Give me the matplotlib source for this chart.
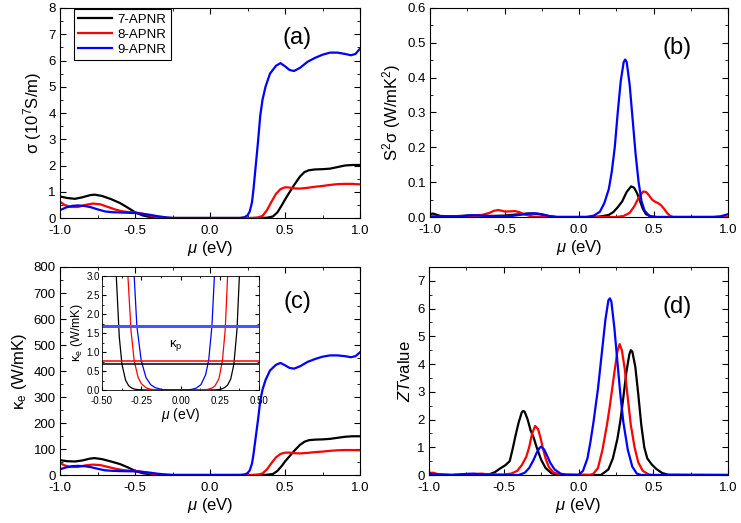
import matplotlib
matplotlib.use("Agg")
import matplotlib.pyplot as plt
from matplotlib.ticker import MultipleLocator, AutoMinorLocator

plt.rcParams["font.family"] = ["Liberation Sans", "DejaVu Sans"]
plt.rcParams["mathtext.fontset"] = "custom"
plt.rcParams["mathtext.rm"] = "Liberation Sans"
plt.rcParams["mathtext.it"] = "Liberation Sans:italic"
plt.rcParams["mathtext.bf"] = "Liberation Sans:bold"
plt.rcParams["axes.unicode_minus"] = False

LABELS = ["7-APNR", "8-APNR", "9-APNR"]
COLORS = ["black", "#ff0000", "#0000ff"]

# ---- (a) sigma (10^7 S/m) ----
MU_A7 = [-1.0, -0.95, -0.9, -0.85, -0.8, -0.77, -0.72, -0.66, -0.6, -0.55, -0.5, -0.45, -0.4, -0.35, -0.3,
         0.3, 0.38, 0.42, 0.45, 0.48, 0.5, 0.53, 0.56, 0.6, 0.63, 0.66, 0.7, 0.75, 0.8, 0.85, 0.9, 0.95, 1.0]
SIG_7 = [0.82, 0.76, 0.73, 0.79, 0.87, 0.89, 0.84, 0.72, 0.57, 0.40, 0.22, 0.10, 0.04, 0.01, 0.0,
         0.0, 0.01, 0.06, 0.22, 0.50, 0.70, 0.98, 1.25, 1.58, 1.75, 1.82, 1.85, 1.86, 1.88, 1.94, 2.0, 2.02, 2.02]
MU_A8 = [-1.0, -0.97, -0.93, -0.88, -0.83, -0.78, -0.73, -0.68, -0.63, -0.58, -0.53, -0.48, -0.43, -0.38, -0.33, -0.28,
         0.28, 0.32, 0.35, 0.38, 0.41, 0.44, 0.47, 0.5, 0.53, 0.56, 0.6, 0.65, 0.7, 0.75, 0.8, 0.85, 0.9, 0.95, 1.0]
SIG_8 = [0.62, 0.50, 0.42, 0.42, 0.50, 0.55, 0.52, 0.42, 0.32, 0.25, 0.22, 0.20, 0.14, 0.06, 0.02, 0.0,
         0.0, 0.02, 0.08, 0.30, 0.62, 0.92, 1.10, 1.17, 1.16, 1.13, 1.12, 1.15, 1.19, 1.22, 1.26, 1.29, 1.30, 1.30, 1.28]
MU_A9 = [-1.0, -0.96, -0.92, -0.88, -0.84, -0.8, -0.75, -0.7, -0.65, -0.6, -0.55, -0.5, -0.45, -0.4, -0.35, -0.3, -0.25,
         0.2, 0.23, 0.25, 0.265, 0.28, 0.29, 0.3, 0.32, 0.335, 0.35, 0.37, 0.4, 0.44, 0.47, 0.5, 0.53, 0.56, 0.6, 0.65,
         0.7, 0.75, 0.8, 0.85, 0.9, 0.94, 0.97, 1.0]
SIG_9 = [0.30, 0.40, 0.46, 0.48, 0.46, 0.42, 0.33, 0.25, 0.22, 0.21, 0.20, 0.19, 0.16, 0.12, 0.07, 0.03, 0.0,
         0.0, 0.03, 0.10, 0.25, 0.6, 1.1, 1.7, 2.9, 3.9, 4.5, 5.0, 5.5, 5.8, 5.9, 5.78, 5.64, 5.6, 5.72, 5.95,
         6.1, 6.22, 6.3, 6.3, 6.25, 6.2, 6.25, 6.45]

# ---- (b) power factor S^2 sigma (W/mK^2) ----
MU_B7 = [-1.0, -0.98, -0.96, -0.93, -0.85, -0.75, -0.68, -0.6, -0.5, -0.4, -0.35, -0.3, -0.25, -0.2, -0.15,
         0.1, 0.15, 0.2, 0.23, 0.26, 0.29, 0.32, 0.35, 0.37, 0.39, 0.41, 0.43, 0.45, 0.48, 0.52, 1.0]
PF_7 = [0.008, 0.01, 0.007, 0.003, 0.002, 0.004, 0.005, 0.003, 0.004, 0.008, 0.01, 0.01, 0.007, 0.002, 0.0,
        0.0, 0.002, 0.006, 0.014, 0.028, 0.045, 0.072, 0.088, 0.084, 0.068, 0.045, 0.022, 0.008, 0.002, 0.0, 0.0]
MU_B8 = [-1.0, -0.9, -0.8, -0.7, -0.65, -0.6, -0.57, -0.54, -0.5, -0.47, -0.43, -0.4, -0.37, -0.33, -0.3, -0.25,
         0.25, 0.3, 0.34, 0.37, 0.4, 0.43, 0.45, 0.47, 0.49, 0.51, 0.53, 0.55, 0.57, 0.59, 0.61, 0.63, 1.0]
PF_8 = [0.0, 0.001, 0.002, 0.004, 0.006, 0.012, 0.018, 0.02, 0.016, 0.016, 0.017, 0.014, 0.008, 0.003, 0.001, 0.0,
        0.0, 0.003, 0.012, 0.03, 0.055, 0.073, 0.072, 0.062, 0.05, 0.044, 0.04, 0.034, 0.024, 0.012, 0.004, 0.0, 0.0]
MU_B9 = [-1.0, -0.9, -0.8, -0.72, -0.65, -0.55, -0.45, -0.38, -0.33, -0.28, -0.24, -0.2, -0.15,
         0.05, 0.1, 0.14, 0.17, 0.2, 0.22, 0.24, 0.26, 0.28, 0.3, 0.31, 0.32, 0.34, 0.36, 0.38, 0.4, 0.42, 0.44,
         0.47, 0.5, 0.9, 0.95, 1.0]
PF_9 = [0.002, 0.001, 0.002, 0.005, 0.004, 0.002, 0.003, 0.007, 0.01, 0.01, 0.007, 0.003, 0.0,
        0.0, 0.004, 0.015, 0.04, 0.08, 0.13, 0.2, 0.3, 0.39, 0.445, 0.452, 0.445, 0.38, 0.28, 0.18, 0.1, 0.045, 0.018,
        0.004, 0.0, 0.0, 0.002, 0.008]

# ---- (c) electronic thermal conductivity kappa_e (W/mK) ----
KE_7 = [57, 53, 52, 56, 63, 65, 61, 52, 42, 30, 16, 7, 3, 1, 0,
        0, 1, 4, 16, 36, 52, 72, 92, 116, 128, 134, 136, 137, 139, 143, 147, 149, 149]
KE_8 = [46, 37, 31, 31, 37, 40, 38, 31, 24, 19, 16, 15, 10, 4, 1.5, 0,
        0, 1.5, 6, 22, 46, 68, 81, 86, 86, 84, 83, 85, 88, 90, 93, 95, 96, 96, 95]
KE_9 = [22, 29, 34, 35, 34, 31, 24, 18, 16, 15, 14.5, 14, 12, 9, 5, 2, 0,
        0, 2, 7, 18, 44, 80, 124, 212, 285, 328, 365, 402, 424, 431, 422, 412, 409, 418, 435,
        446, 455, 460, 460, 457, 453, 457, 472]

# inset: low-mu kappa_e and phonon kappa_p
MU_I7 = [-0.43, -0.409, -0.39, -0.373, -0.35, -0.33, -0.31, -0.29, -0.26, -0.22, -0.15,
         0.15, 0.22, 0.24, 0.26, 0.28, 0.30, 0.32, 0.34, 0.36, 0.375, 0.39]
KI_7 = [6.0, 3.0, 1.4, 0.68, 0.26, 0.11, 0.05, 0.02, 0.007, 0.002, 0.0,
        0.0, 0.004, 0.01, 0.025, 0.06, 0.13, 0.29, 0.68, 1.6, 3.0, 5.5]
MU_I8 = [-0.35, -0.335, -0.315, -0.295, -0.27, -0.25, -0.22, -0.19, -0.15, -0.1,
         0.08, 0.13, 0.17, 0.2, 0.22, 0.245, 0.267, 0.285, 0.30, 0.315]
KI_8 = [5.0, 3.0, 1.55, 0.77, 0.33, 0.17, 0.06, 0.02, 0.005, 0.0,
        0.0, 0.003, 0.015, 0.05, 0.11, 0.3, 0.77, 1.6, 3.0, 5.0]
MU_I9 = [-0.31, -0.295, -0.278, -0.25, -0.22, -0.19, -0.16, -0.12, -0.08, -0.04,
         0.0, 0.04, 0.07, 0.1, 0.13, 0.16, 0.18, 0.2, 0.216, 0.23]
KI_9 = [4.5, 3.0, 1.68, 0.77, 0.33, 0.14, 0.06, 0.015, 0.003, 0.0,
        0.0, 0.004, 0.015, 0.05, 0.14, 0.4, 0.8, 1.68, 3.0, 4.8]
KAPPA_P = [0.68, 0.77, 1.68]

# ---- (d) ZT ----
MU_D7 = [-1.0, -0.8, -0.65, -0.6, -0.56, -0.52, -0.49, -0.46, -0.44, -0.42, -0.4, -0.38, -0.37, -0.36, -0.34, -0.32,
         -0.3, -0.28, -0.25, -0.22, -0.18, -0.14,
         0.15, 0.2, 0.23, 0.26, 0.28, 0.3, 0.32, 0.34, 0.35, 0.36, 0.38, 0.4, 0.42, 0.44, 0.46, 0.49, 0.52, 0.56, 0.6, 1.0]
ZT_7 = [0.01, 0.0, 0.01, 0.02, 0.1, 0.25, 0.35, 0.5, 0.95, 1.45, 1.9, 2.25, 2.31, 2.28, 2.0, 1.6,
        1.35, 1.0, 0.55, 0.25, 0.06, 0.01,
        0.0, 0.2, 0.6, 1.3, 1.95, 2.8, 3.7, 4.35, 4.5, 4.45, 3.9, 2.9, 1.8, 1.0, 0.6, 0.38, 0.22, 0.07, 0.01, 0.0]
MU_D8 = [-1.0, -0.97, -0.94, -0.85, -0.7, -0.65, -0.6, -0.5, -0.45, -0.41, -0.38, -0.35, -0.33, -0.31, -0.29, -0.27,
         -0.25, -0.24, -0.22, -0.2, -0.17, -0.13,
         0.08, 0.1, 0.13, 0.16, 0.19, 0.21, 0.225, 0.24, 0.26, 0.275, 0.29, 0.31, 0.325, 0.35, 0.375, 0.4, 0.43, 0.47,
         0.5, 1.0]
ZT_8 = [0.08, 0.08, 0.03, 0.0, 0.03, 0.05, 0.02, 0.02, 0.05, 0.15, 0.35, 0.65, 1.0, 1.5, 1.77, 1.65,
        1.25, 1.0, 0.6, 0.3, 0.1, 0.02,
        0.0, 0.05, 0.25, 0.9, 1.8, 2.5, 3.1, 3.7, 4.45, 4.72, 4.5, 3.8, 3.0, 1.8, 1.0, 0.45, 0.15, 0.02,
        0.0, 0.0]
MU_D9 = [-1.0, -0.95, -0.85, -0.75, -0.7, -0.65, -0.55, -0.4, -0.36, -0.33, -0.3, -0.28, -0.26, -0.25, -0.23, -0.21,
         -0.19, -0.16, -0.12, -0.08,
         0.0, 0.03, 0.06, 0.08, 0.1, 0.13, 0.16, 0.18, 0.2, 0.21, 0.22, 0.24, 0.26, 0.28, 0.3, 0.33, 0.36, 0.39, 0.42,
         1.0]
ZT_9 = [0.05, 0.02, 0.0, 0.04, 0.05, 0.02, 0.0, 0.0, 0.08, 0.25, 0.55, 0.8, 0.98, 1.02, 0.92, 0.7,
        0.45, 0.2, 0.05, 0.0,
        0.0, 0.15, 0.6, 1.2, 1.9, 3.1, 4.6, 5.6, 6.3, 6.37, 6.25, 5.3, 4.1, 2.9, 1.9, 0.9, 0.3, 0.05, 0.0,
        0.0]

W, H = 741, 523
fig = plt.figure(figsize=(W / 100, H / 100), dpi=100)


def box(l, t, r, b):
    return [l / W, 1 - b / H, (r - l) / W, (b - t) / H]


def style(ax, ymax, ystep, ylabel, tag, tx, ty, fs=9.5):
    ax.set_xlim(-1.0, 1.0)
    ax.set_ylim(0, ymax)
    ax.xaxis.set_major_locator(MultipleLocator(0.5))
    ax.yaxis.set_major_locator(MultipleLocator(ystep))
    ax.xaxis.set_minor_locator(AutoMinorLocator(2))
    ax.yaxis.set_minor_locator(AutoMinorLocator(2))
    ax.tick_params(which="both", direction="in", top=True, right=True, labelsize=fs)
    ax.tick_params(axis="x", pad=5)
    ax.tick_params(axis="y", pad=3)
    ax.tick_params(which="major", length=4)
    ax.tick_params(which="minor", length=2)
    ax.set_xlabel(r"$\mu$ (eV)", fontsize=12, labelpad=1.5)
    ax.set_ylabel(ylabel, fontsize=12, labelpad=3)
    ax.text(tx, ty, tag, transform=ax.transAxes, fontsize=17, ha="center", va="center")


lw = 1.6

ax_a = fig.add_axes(box(60, 8, 360, 218))
for mu, y, c, lab in zip([MU_A7, MU_A8, MU_A9], [SIG_7, SIG_8, SIG_9], COLORS, LABELS):
    ax_a.plot(mu, y, color=c, lw=lw, label=lab)
style(ax_a, 8, 1, "σ (10$^7$S/m)", "(a)", 0.79, 0.857)
ax_a.yaxis.set_major_formatter(plt.FormatStrFormatter("%d"))
ax_a.xaxis.set_major_formatter(plt.FormatStrFormatter("%.1f"))
leg = ax_a.legend(loc="upper left", bbox_to_anchor=(0.045, 0.995), borderaxespad=0, fontsize=9.5,
                  fancybox=False, framealpha=1, edgecolor="black", handlelength=2.6,
                  handletextpad=0.4, labelspacing=0.2, borderpad=0.35)
leg.get_frame().set_linewidth(0.8)

ax_b = fig.add_axes(box(430, 8, 728, 217))
for mu, y, c in zip([MU_B7, MU_B8, MU_B9], [PF_7, PF_8, PF_9], COLORS):
    ax_b.plot(mu, y, color=c, lw=lw)
style(ax_b, 0.6, 0.1, "S$^2$σ (W/mK$^2$)", "(b)", 0.83, 0.81)
ax_b.yaxis.set_major_formatter(plt.FormatStrFormatter("%.1f"))
ax_b.xaxis.set_major_formatter(plt.FormatStrFormatter("%.1f"))

ax_c = fig.add_axes(box(60, 267, 360, 475))
for mu, y, c in zip([MU_A7, MU_A8, MU_A9], [KE_7, KE_8, KE_9], COLORS):
    ax_c.plot(mu, y, color=c, lw=lw)
style(ax_c, 800, 100, r"κ$_\mathrm{e}$ (W/mK)", "(c)", 0.79, 0.83)
ax_c.xaxis.set_major_formatter(plt.FormatStrFormatter("%.1f"))

ax_d = fig.add_axes(box(429, 267, 728, 475))
for mu, y, c in zip([MU_D7, MU_D8, MU_D9], [ZT_7, ZT_8, ZT_9], COLORS):
    ax_d.plot(mu, y, color=c, lw=lw)
style(ax_d, 7.5, 1, "$ZT$value", "(d)", 0.83, 0.81)
ax_d.xaxis.set_major_formatter(plt.FormatStrFormatter("%.1f"))

# inset in (c)
ax_i = fig.add_axes(box(102, 276, 259, 390))
for mu, y, c in zip([MU_I7, MU_I8, MU_I9], [KI_7, KI_8, KI_9], COLORS):
    ax_i.plot(mu, y, color=c, lw=0.9)
ax_i.axhline(KAPPA_P[0], color="black", lw=1.1)
ax_i.axhline(KAPPA_P[1], color="#ff0000", lw=1.1)
ax_i.axhline(KAPPA_P[2], color="#5050ff", lw=2.2)
ax_i.set_xlim(-0.5, 0.5)
ax_i.set_ylim(0, 3.0)
ax_i.xaxis.set_major_locator(MultipleLocator(0.25))
ax_i.yaxis.set_major_locator(MultipleLocator(0.5))
ax_i.xaxis.set_minor_locator(AutoMinorLocator(2))
ax_i.yaxis.set_minor_locator(AutoMinorLocator(2))
ax_i.xaxis.set_major_formatter(plt.FormatStrFormatter("%.2f"))
ax_i.yaxis.set_major_formatter(plt.FormatStrFormatter("%.1f"))
ax_i.tick_params(which="both", direction="in", top=True, right=True, labelsize=7, pad=1.5)
ax_i.tick_params(axis="x", pad=4.5)
ax_i.tick_params(which="major", length=3)
ax_i.tick_params(which="minor", length=1.5)
for s in ax_i.spines.values():
    s.set_linewidth(0.6)
ax_i.set_xlabel(r"$\mu$ (eV)", fontsize=10, labelpad=0)
ax_i.set_ylabel(r"κ$_\mathrm{e}$ (W/mK)", fontsize=9, labelpad=1)
ax_i.text(-0.03, 1.17, r"κ$_\mathrm{p}$", fontsize=9.5, ha="center", va="center")

fig.savefig("out.png", dpi=100)
